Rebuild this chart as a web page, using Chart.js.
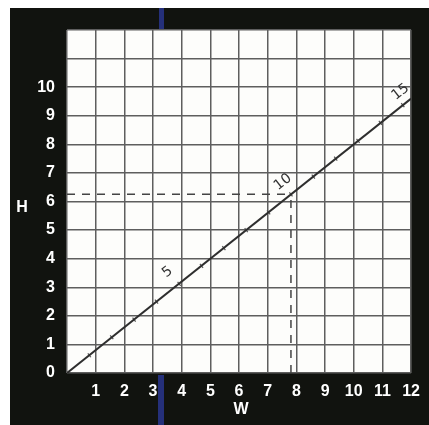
<!DOCTYPE html>
<html>
<head>
<meta charset="utf-8">
<script src="https://cdn.jsdelivr.net/npm/chart.js@4"></script>
<style>
  html, body { margin: 0; padding: 0; background: #fff; }
  #wrap { width: 429px; height: 425px; }
</style>
</head>
<body>
<div id="wrap"><canvas id="c"></canvas></div>
<script>
// axis ticks
const wTicks = [0, 1, 2, 3, 4, 5, 6, 7, 8, 9, 10, 11, 12];
const hTicks = [0, 1, 2, 3, 4, 5, 6, 7, 8, 9, 10];

// main line, ends
const lineW = [0, 12];
const lineH = [0, 9.6];

// small marks along the line (every diagonal unit)
const diagW = [0.78, 1.56, 2.34, 3.12, 3.91, 4.69, 5.47, 6.25, 7.03, 7.81, 8.59, 9.37, 10.15, 10.93, 11.71];
const diagH = [0.62, 1.25, 1.87, 2.5, 3.12, 3.75, 4.37, 5.0, 5.62, 6.25, 6.87, 7.5, 8.12, 8.75, 9.37];

// diagonal labels and where they sit
const diagLabels = ['5', '10', '15'];
const labelW = [3.51, 7.53, 11.63];
const labelH = [3.53, 6.68, 9.83];

// dashed reading at diagonal 10
const readW = 7.81;
const readH = 6.25;

const toPts = (xs, ys) => xs.map((x, i) => ({ x: x, y: ys[i] }));

const framePlugin = {
    id: 'frame',
    beforeDraw(chart) {
        const ctx = chart.ctx;
        const a = chart.chartArea;
        ctx.save();
        ctx.fillStyle = '#fff';
        ctx.fillRect(0, 0, chart.width, chart.height);
        ctx.fillStyle = '#11130f';
        ctx.fillRect(10, 8, chart.width - 10, chart.height - 8);
        // scan streak
        ctx.fillStyle = '#25307a';
        ctx.fillRect(159, 8, 5, a.top - 8);
        ctx.fillRect(158, a.bottom + 2, 6, chart.height - a.bottom);
        ctx.fillStyle = '#fdfdfb';
        ctx.fillRect(a.left, a.top, a.right - a.left, a.bottom - a.top);
        ctx.restore();
    },
    afterDraw(chart) {
        const ctx = chart.ctx;
        const xs = chart.scales.x, ys = chart.scales.y;
        ctx.save();
        ctx.fillStyle = '#fff';
        ctx.font = 'bold 16px "Liberation Sans", sans-serif';
        ctx.textAlign = 'center';
        ctx.textBaseline = 'middle';
        ctx.fillText('W', (xs.left + xs.right) / 2 + 2, 410);
        ctx.fillText('H', 22, 208);
        // labels along the line
        ctx.fillStyle = '#333';
        ctx.font = '14px "DejaVu Sans", sans-serif';
        diagLabels.forEach((t, i) => {
            ctx.save();
            ctx.translate(xs.getPixelForValue(labelW[i]), ys.getPixelForValue(labelH[i]));
            ctx.rotate(-0.66);
            ctx.fillText(t, 0, 0);
            ctx.restore();
        });
        ctx.restore();
    }
};

new Chart(document.getElementById('c'), {
    type: 'scatter',
    data: {
        datasets: [
            {
                data: toPts([0, readW], [readH, readH]),
                showLine: true,
                borderColor: '#444',
                borderWidth: 1.5,
                borderDash: [8, 7],
                pointRadius: 0
            },
            {
                data: toPts([readW, readW], [0, readH]),
                showLine: true,
                borderColor: '#444',
                borderWidth: 1.5,
                borderDash: [8, 7],
                pointRadius: 0
            },
            {
                data: toPts(lineW, lineH),
                showLine: true,
                borderColor: '#2e2e2e',
                borderWidth: 2,
                pointRadius: 0
            },
            {
                data: toPts(diagW, diagH),
                pointStyle: 'line',
                rotation: 52,
                pointRadius: 2.5,
                borderColor: '#555',
                borderWidth: 1.2
            }
        ]
    },
    options: {
        responsive: true,
        maintainAspectRatio: false,
        animation: false,
        layout: { padding: { left: 10, top: 30, right: 10, bottom: 0 } },
        plugins: {
            legend: { display: false },
            tooltip: { enabled: false }
        },
        scales: {
            x: {
                type: 'linear',
                min: 0,
                max: 12,
                afterFit: s => { s.height = 52; },
                afterBuildTicks: s => { s.ticks = wTicks.map(v => ({ value: v })); },
                border: { display: false },
                grid: { color: '#5e5e5e', lineWidth: 1.5, drawTicks: false },
                ticks: {
                    color: '#fff',
                    padding: 9,
                    font: { family: '"Liberation Sans", sans-serif', size: 16, weight: 'bold' },
                    callback: v => (v === 0 ? '' : String(v))
                }
            },
            y: {
                type: 'linear',
                min: 0,
                max: 12,
                afterFit: s => { s.width = 57; },
                afterBuildTicks: s => {
                    s.ticks = hTicks.concat([11, 12]).map(v => ({ value: v }));
                },
                border: { display: false },
                grid: { color: '#5e5e5e', lineWidth: 1.5, drawTicks: false },
                ticks: {
                    color: '#fff',
                    padding: 12,
                    font: { family: '"Liberation Sans", sans-serif', size: 16, weight: 'bold' },
                    callback: v => (v > 10 ? '' : String(v))
                }
            }
        }
    },
    plugins: [framePlugin]
});
</script>
</body>
</html>
